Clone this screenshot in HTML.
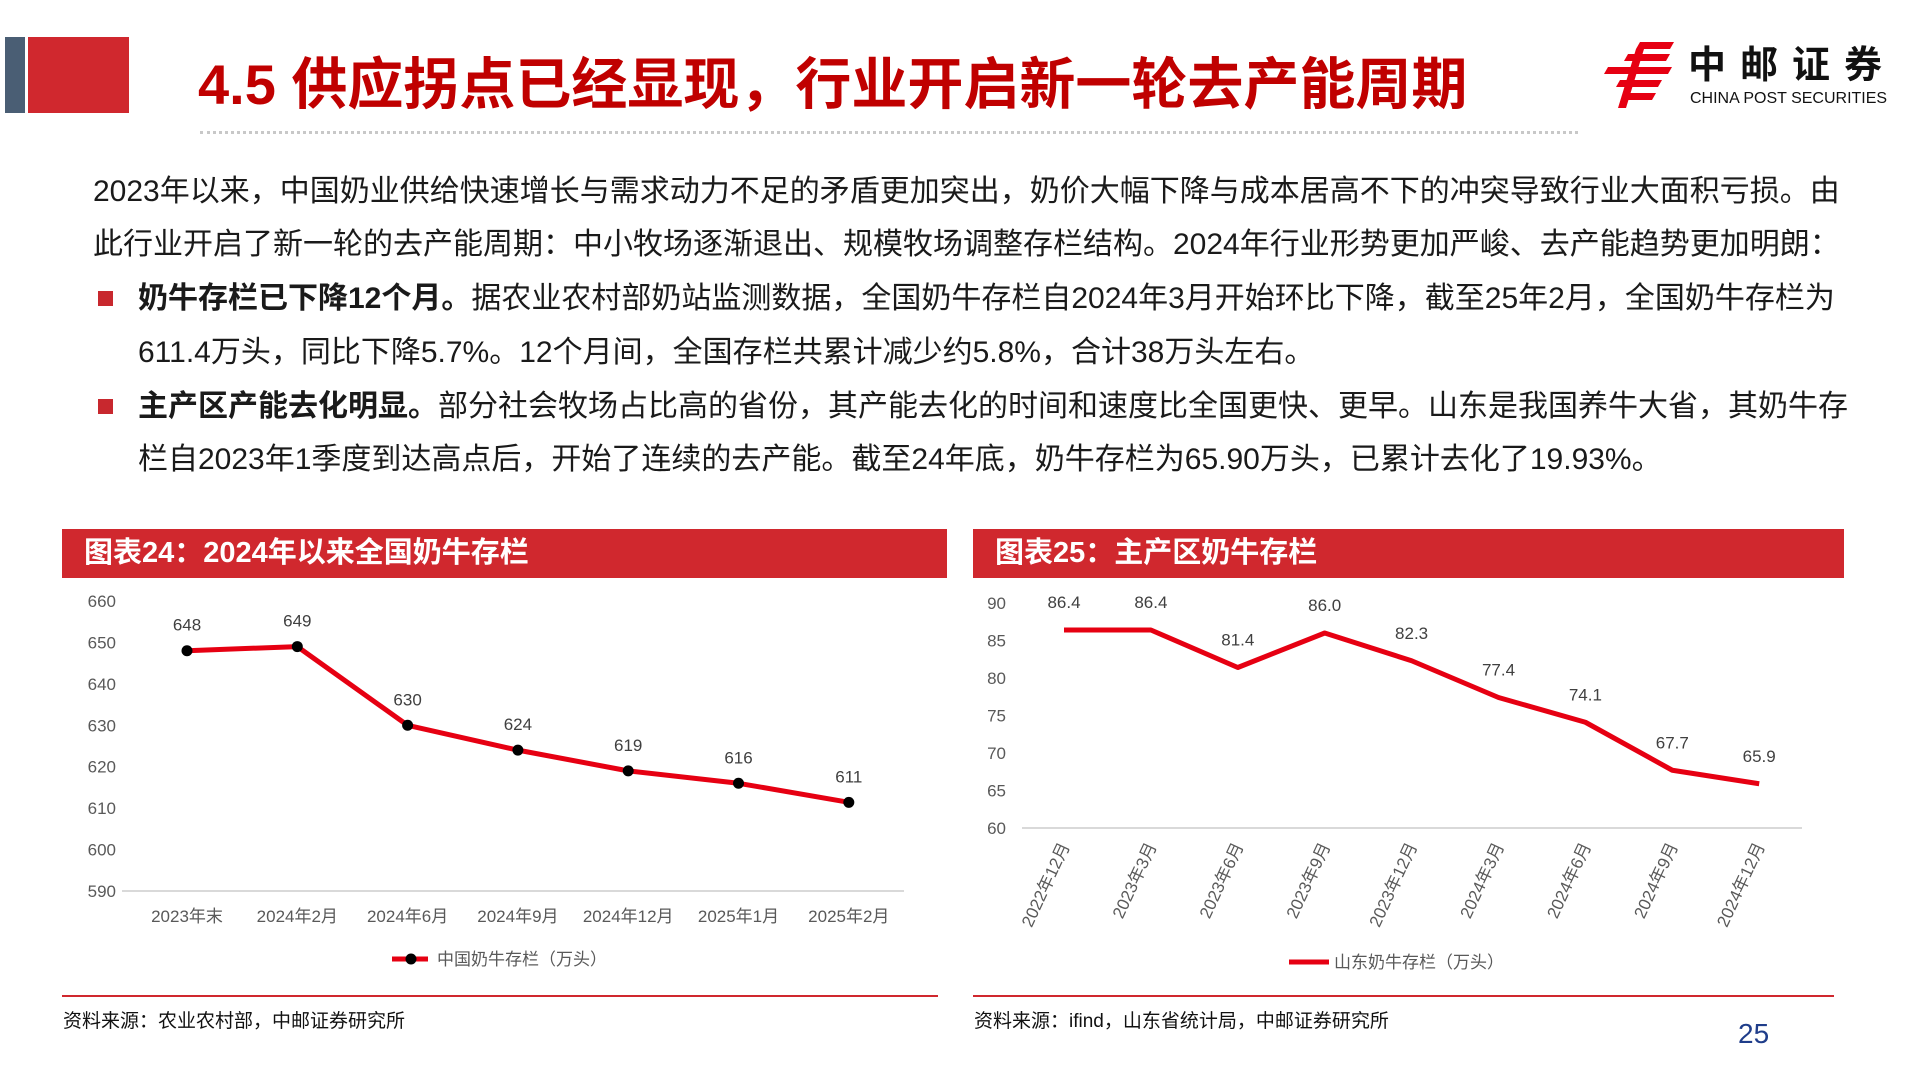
<!DOCTYPE html>
<html><head><meta charset="utf-8">
<style>
html,body{margin:0;padding:0;background:#fff;}
#page{position:relative;width:1920px;height:1080px;overflow:hidden;background:#fff;font-family:"Liberation Sans","Noto Sans CJK SC",sans-serif;}
.abs{position:absolute;}
.line{position:absolute;font-size:30px;color:#1a1a1a;white-space:nowrap;line-height:38px;}
.hdr{position:absolute;height:49px;background:#d0282e;color:#fff;font-weight:bold;font-size:29px;line-height:49px;padding-left:22px;box-sizing:border-box;}
.src{position:absolute;font-size:19px;color:#111;}
.bul{position:absolute;width:15px;height:15px;background:#c8282e;}
</style></head>
<body>
<div id="page">
  <div class="abs" style="left:5px;top:37px;width:20px;height:76px;background:#4a5e74;"></div>
  <div class="abs" style="left:28px;top:37px;width:101px;height:76px;background:#d0282e;"></div>
  <div class="abs" style="left:198px;top:52px;font-size:56px;font-weight:bold;color:#c00000;white-space:nowrap;line-height:66px;">4.5 供应拐点已经显现，行业开启新一轮去产能周期</div>
  <div class="abs" style="left:200px;top:131px;width:1378px;border-top:3px dotted #c8c8c8;"></div>

  <div class="abs" style="left:1600px;top:38px;width:300px;height:75px;">
    <svg width="90" height="75" viewBox="0 0 90 75">
      <g fill="#e60012">
        <polygon points="40,4 74,4 70,11 36,11"/>
        <polygon points="28,16 70,16 66,23 24,23"/>
        <polygon points="8,29 72,29 68,36 4,36"/>
        <polygon points="20,42 62,42 58,49 16,49"/>
        <polygon points="30,55 56,55 52,62 26,62"/>
        <polygon points="36,11 44,11 26,70 18,70"/>
      </g>
    </svg>
    <div class="abs" style="left:88px;top:6px;font-size:38px;line-height:44px;font-weight:bold;color:#111;letter-spacing:14px;white-space:nowrap;">中邮证券</div>
    <div class="abs" style="left:90px;top:53px;font-size:16px;line-height:16px;color:#111;white-space:nowrap;">CHINA POST SECURITIES</div>
  </div>

  <div class="line" style="left:93px;top:173px;">2023年以来，中国奶业供给快速增长与需求动力不足的矛盾更加突出，奶价大幅下降与成本居高不下的冲突导致行业大面积亏损。由</div>
  <div class="line" style="left:93px;top:226px;">此行业开启了新一轮的去产能周期：中小牧场逐渐退出、规模牧场调整存栏结构。2024年行业形势更加严峻、去产能趋势更加明朗：</div>
  <div class="bul" style="left:98px;top:291px;"></div>
  <div class="line" style="left:138px;top:280px;"><b>奶牛存栏已下降12个月。</b>据农业农村部奶站监测数据，全国奶牛存栏自2024年3月开始环比下降，截至25年2月，全国奶牛存栏为</div>
  <div class="line" style="left:138px;top:334px;">611.4万头，同比下降5.7%。12个月间，全国存栏共累计减少约5.8%，合计38万头左右。</div>
  <div class="bul" style="left:98px;top:399px;"></div>
  <div class="line" style="left:138px;top:388px;"><b>主产区产能去化明显。</b>部分社会牧场占比高的省份，其产能去化的时间和速度比全国更快、更早。山东是我国养牛大省，其奶牛存</div>
  <div class="line" style="left:138px;top:441px;">栏自2023年1季度到达高点后，开始了连续的去产能。截至24年底，奶牛存栏为65.90万头，已累计去化了19.93%。</div>

  <div class="hdr" style="left:62px;top:529px;width:885px;">图表24：2024年以来全国奶牛存栏</div>
  <div class="hdr" style="left:973px;top:529px;width:871px;">图表25：主产区奶牛存栏</div>

  <svg id="charts" class="abs" style="left:0;top:0;" width="1920" height="1080"></svg>

  <div class="abs" style="left:62px;top:995px;width:876px;height:2px;background:#d0282e;"></div>
  <div class="abs" style="left:973px;top:995px;width:861px;height:2px;background:#d0282e;"></div>
  <div class="src" style="left:63px;top:1006px;">资料来源：农业农村部，中邮证券研究所</div>
  <div class="src" style="left:974px;top:1006px;">资料来源：ifind，山东省统计局，中邮证券研究所</div>
  <div class="abs" style="left:1738px;top:1018px;font-size:28px;color:#1f3d8a;">25</div>
</div>
<script>
const c1Categories = ["2023年末","2024年2月","2024年6月","2024年9月","2024年12月","2025年1月","2025年2月"];
const c1Values = [648,649,630,624,619,616,611.4];
const c1Ticks = [590,600,610,620,630,640,650,660];
const c2Categories = ["2022年12月","2023年3月","2023年6月","2023年9月","2023年12月","2024年3月","2024年6月","2024年9月","2024年12月"];
const c2Values = [86.4,86.4,81.4,86.0,82.3,77.4,74.1,67.7,65.9];
const c2Ticks = [60,65,70,75,80,85,90];

const NS = "http://www.w3.org/2000/svg";
const svg = document.getElementById("charts");
function mk(tag, attrs, text){
  const e = document.createElementNS(NS, tag);
  for (const k in attrs) e.setAttribute(k, attrs[k]);
  if (text !== undefined) e.textContent = text;
  svg.appendChild(e);
  return e;
}
const FONT = '"Liberation Sans","Noto Sans CJK SC",sans-serif';

// Chart 1
(function(){
  const yMin=590,yMax=660,yTop=601,yBot=891;
  const x0=187,dx=110.3;
  const sx=i=>x0+i*dx;
  const sy=v=>yBot-(v-yMin)/(yMax-yMin)*(yBot-yTop);
  c1Ticks.forEach(t=>{
    const e=mk("text",{x:116,y:sy(t)+6,"text-anchor":"end","font-size":17,fill:"#595959","font-family":FONT},t);
    
    
  });
  const ax=mk("line",{x1:122,y1:yBot,x2:904,y2:yBot,stroke:"#d9d9d9","stroke-width":2});
  
  
  c1Categories.forEach((c,i)=>{
    const e=mk("text",{x:sx(i),y:922,"text-anchor":"middle","font-size":17,fill:"#595959","font-family":FONT},c);
    
    
  });
  const pts=c1Values.map((v,i)=>sx(i)+","+sy(v)).join(" ");
  const pl=mk("polyline",{points:pts,fill:"none",stroke:"#e60012","stroke-width":5,"stroke-linejoin":"round"});
  
  
  c1Values.forEach((v,i)=>{
    const p=mk("circle",{cx:sx(i),cy:sy(v),r:5.5,fill:"#000"});
    
    
    const l=mk("text",{x:sx(i),y:sy(v)-20,"text-anchor":"middle","font-size":17,fill:"#404040","font-family":FONT},Math.round(v));
    
    
  });
  const lg=mk("line",{x1:392,y1:959,x2:428,y2:959,stroke:"#e60012","stroke-width":5});
  
  
  const lc=mk("circle",{cx:411,cy:959,r:5.5,fill:"#000"});
  
  
  const lt=mk("text",{x:437,y:965,"font-size":17,fill:"#595959","font-family":FONT},"中国奶牛存栏（万头）");
  
  
})();

// Chart 2
(function(){
  const yMin=60,yMax=90,yTop=603,yBot=828;
  const x0=1064,dx=86.9;
  const sx=i=>x0+i*dx;
  const sy=v=>yBot-(v-yMin)/(yMax-yMin)*(yBot-yTop);
  c2Ticks.forEach(t=>{
    const e=mk("text",{x:1006,y:sy(t)+6,"text-anchor":"end","font-size":17,fill:"#595959","font-family":FONT},t);
    
    
  });
  const ax=mk("line",{x1:1022,y1:yBot,x2:1802,y2:yBot,stroke:"#d9d9d9","stroke-width":2});
  
  
  c2Categories.forEach((c,i)=>{
    const x=sx(i)+6,y=846;
    const e=mk("text",{x:x,y:y,"text-anchor":"end","font-size":17,fill:"#595959","font-family":FONT,transform:"rotate(-65 "+x+" "+y+")"},c);
    
    
  });
  const pts=c2Values.map((v,i)=>sx(i)+","+sy(v)).join(" ");
  const pl=mk("polyline",{points:pts,fill:"none",stroke:"#e60012","stroke-width":5,"stroke-linejoin":"round"});
  
  
  c2Values.forEach((v,i)=>{
    const l=mk("text",{x:sx(i),y:sy(v)-22,"text-anchor":"middle","font-size":17,fill:"#404040","font-family":FONT},v.toFixed(1));
    
    
  });
  const lg=mk("line",{x1:1289,y1:962,x2:1329,y2:962,stroke:"#e60012","stroke-width":5});
  
  
  const lt=mk("text",{x:1334,y:968,"font-size":17,fill:"#595959","font-family":FONT},"山东奶牛存栏（万头）");
  
  
})();
</script>
</body></html>
